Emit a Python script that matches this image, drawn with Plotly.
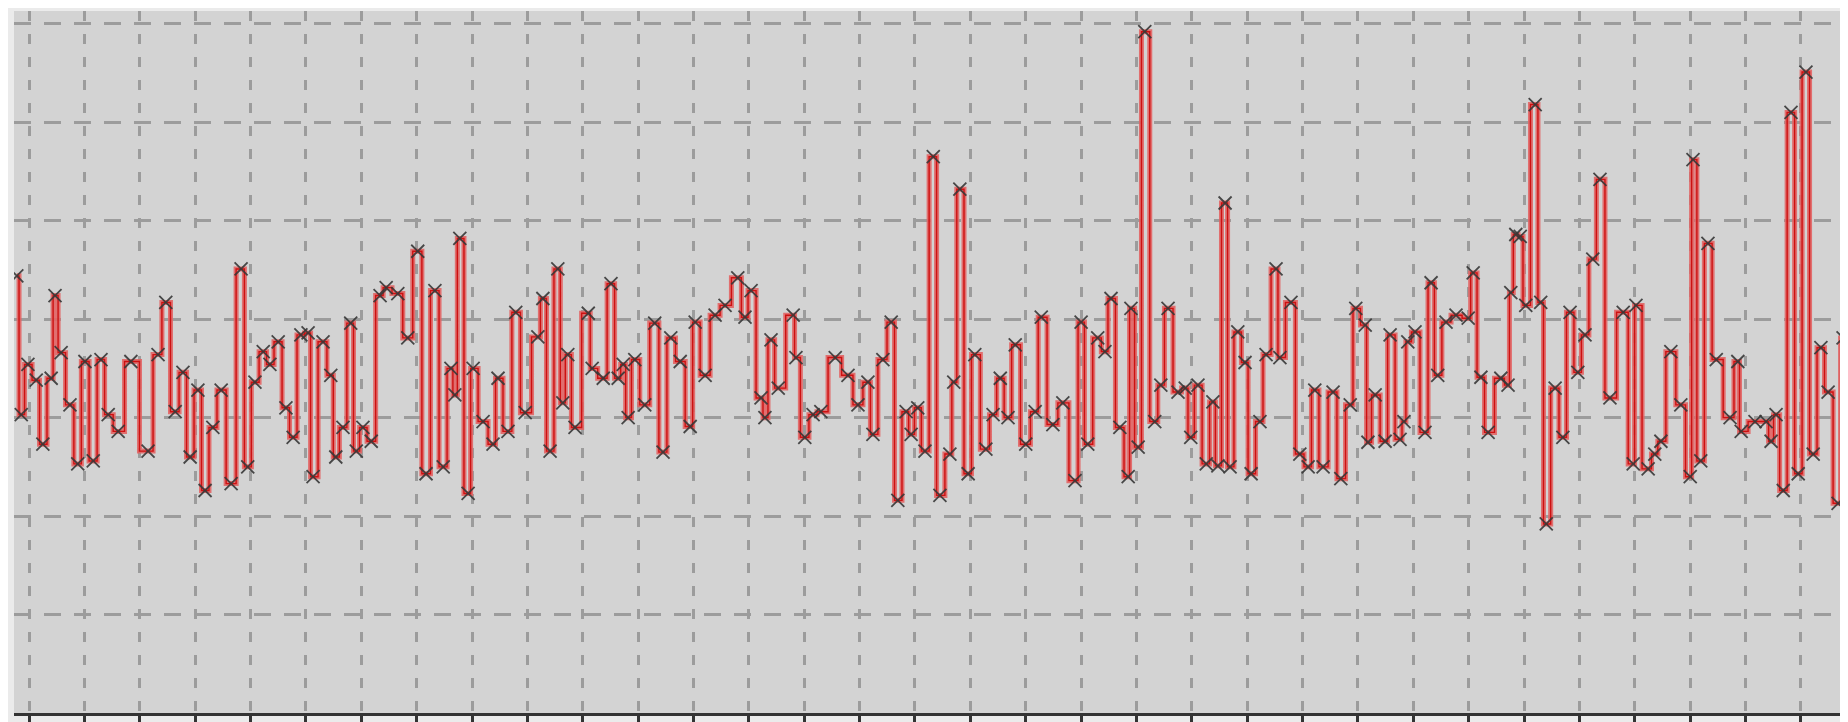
import plotly.graph_objects as go

x_vals = [-2.2, -1.4, -0.2, 1.3, 2.5, 4.0, 4.7, 5.8, 7.4, 8.8, 10.1, 11.6, 13.0, 14.3, 16.1, 18.4, 21.5, 23.3, 24.7, 26.4,
          27.8, 29.1, 30.5, 31.8, 33.2, 34.7, 36.5, 38.3, 39.5, 40.8, 42.3, 43.5, 45.0, 46.4, 47.7, 49.1, 50.4, 51.3, 53.1, 54.5,
          55.4, 56.7, 58.1, 59.1, 60.3, 61.8, 63.4, 64.5, 66.6, 68.4, 70.2, 71.7, 73.3, 74.8, 76.2, 76.9, 77.8, 79.3, 80.2, 82.0,
          83.8, 84.7, 86.5, 87.9, 89.6, 91.9, 92.8, 94.1, 95.5, 96.4, 97.3, 98.6, 101.0, 101.7, 103.7, 105.1, 106.4, 107.3, 108.2, 109.4,
          111.2, 113.0, 114.5, 115.9, 117.6, 119.4, 120.3, 122.1, 123.9, 125.7, 128.0, 129.3, 130.4, 132.2, 132.9, 134.0, 135.3, 138.0, 138.5, 140.1,
          141.6, 143.0, 145.6, 147.9, 149.7, 151.5, 152.4, 154.2, 155.7, 156.9, 158.4, 159.3, 160.5, 161.8, 163.3, 164.5, 166.3, 167.0, 168.1, 169.6,
          170.8, 172.8, 174.1, 175.4, 176.8, 178.1, 180.0, 181.7, 182.8, 184.9, 186.7, 188.9, 190.0, 191.2, 193.0, 194.3, 195.4, 197.0, 198.5, 199.0,
          200.3, 201.5, 203.3, 204.4, 205.7, 207.5, 208.8, 209.8, 211.1, 212.6, 213.8, 214.7, 216.0, 216.9, 218.3, 219.6, 220.7, 222.3, 223.4, 225.2,
          225.9, 227.9, 229.5, 231.0, 232.2, 233.7, 235.5, 236.9, 238.6, 239.6, 241.3, 241.8, 243.1, 244.9, 245.8, 247.6, 248.3, 249.0, 250.3, 252.1,
          253.2, 254.4, 255.9, 257.7, 259.9, 260.8, 262.2, 263.5, 265.8, 267.1, 267.6, 268.5, 269.3, 270.3, 272.0, 273.0, 274.0, 275.6, 277.0, 278.3,
          279.7, 281.0, 282.4, 283.7, 285.5, 287.9, 289.7, 290.2, 292.4, 293.6, 294.7, 296.5, 298.3, 300.0, 300.5, 301.9, 303.2, 304.7, 307.2, 308.6,
          309.2, 311.7, 313.7, 314.6, 315.5, 316.8, 318.2, 319.5, 320.9, 322.2, 323.6, 324.9, 326.7, 327.6]

y_vals = [44.4, 30.3, 35.4, 33.8, 27.3, 34.0, 42.4, 36.6, 31.3, 25.3, 35.7, 25.6, 35.9, 30.3, 28.6, 35.7, 26.6, 36.4, 41.7, 30.6,
          34.6, 26.0, 32.8, 22.6, 29.0, 32.8, 23.3, 45.1, 25.0, 33.6, 36.7, 35.4, 37.7, 31.0, 28.0, 38.4, 38.6, 24.0, 37.7, 34.3,
          26.0, 29.0, 39.6, 26.6, 29.0, 27.6, 42.4, 43.2, 42.6, 38.1, 46.9, 24.3, 42.9, 25.0, 35.0, 32.3, 48.2, 22.3, 35.0, 29.6,
          27.3, 34.0, 28.6, 40.7, 30.5, 38.2, 42.1, 26.6, 45.1, 31.5, 36.4, 29.0, 40.6, 35.0, 34.0, 43.6, 34.0, 35.4, 30.0, 35.9,
          31.3, 39.6, 26.5, 38.1, 35.7, 29.1, 39.7, 34.3, 40.4, 41.4, 44.2, 40.2, 42.9, 32.0, 30.0, 37.9, 33.0, 40.4, 36.1, 28.0,
          30.3, 30.6, 36.1, 34.3, 31.3, 33.6, 28.3, 35.9, 39.7, 21.6, 30.6, 28.3, 31.0, 26.6, 56.5, 22.1, 26.3, 33.6, 53.2, 24.3,
          36.4, 26.8, 30.3, 34.0, 30.0, 37.4, 27.3, 30.6, 40.2, 29.3, 31.5, 23.6, 39.7, 27.3, 38.1, 36.7, 42.1, 29.0, 24.0, 41.1,
          27.0, 69.2, 29.6, 33.3, 41.1, 32.6, 33.0, 28.0, 33.3, 25.3, 31.6, 25.1, 51.8, 25.0, 38.7, 35.6, 24.3, 29.6, 36.4, 45.1,
          36.1, 41.7, 26.3, 25.0, 32.8, 25.0, 32.6, 23.8, 31.3, 41.1, 39.4, 27.5, 32.3, 27.6, 38.4, 27.8, 29.6, 37.7, 38.7, 28.5,
          43.7, 34.3, 39.7, 40.4, 40.1, 44.7, 34.1, 28.5, 34.0, 33.3, 42.7, 48.6, 48.4, 41.4, 61.8, 41.7, 19.2, 33.0, 28.0, 40.7,
          34.6, 38.4, 46.1, 54.2, 32.0, 40.7, 25.3, 41.4, 24.8, 26.3, 27.6, 36.7, 31.3, 24.0, 56.2, 25.6, 47.7, 35.9, 30.0, 35.7,
          28.6, 29.6, 29.6, 27.6, 30.3, 22.6, 61.0, 24.3, 65.1, 26.3, 37.1, 32.6, 21.3, 38.1]

x_ticks = list(range(0, 330, 10))
y_grid = [10, 20, 30, 40, 50, 60, 70]

fig = go.Figure()
fig.add_trace(go.Scatter(
    x=x_vals, y=y_vals, mode="lines",
    line=dict(color="rgba(226,100,100,0.9)", width=5, shape="hvh"),
    hoverinfo="skip", showlegend=False,
))
fig.add_trace(go.Scatter(
    x=x_vals, y=y_vals, mode="lines+markers",
    line=dict(color="#cc1111", width=1.4, shape="hvh"),
    marker=dict(symbol="x-thin", size=13, color="#444444",
                line=dict(color="rgba(55,55,55,0.9)", width=1.8)),
    showlegend=False,
))

fig.update_layout(
    width=1848, height=722,
    margin=dict(l=6, r=11, t=3, b=12),
    paper_bgcolor="#ebebeb",
    plot_bgcolor="#d3d3d3",
    showlegend=False,
)
fig.update_xaxes(
    range=[-2.71, 327.95],
    tickmode="array", tickvals=x_ticks, showticklabels=False,
    ticks="outside", ticklen=14, tickwidth=3, tickcolor="#333333",
    showgrid=True, gridcolor="#9c9c9c", gridwidth=2.5, griddash="10px,13px",
    showline=True, linecolor="#333333", linewidth=3,
    zeroline=False,
)
fig.update_yaxes(
    range=[0, 71.3],
    tickmode="array", tickvals=y_grid, showticklabels=False, ticks="",
    showgrid=True, gridcolor="#9c9c9c", gridwidth=2.5, griddash="17px,13px",
    showline=False, zeroline=False,
)

fig.write_html("out.html")
